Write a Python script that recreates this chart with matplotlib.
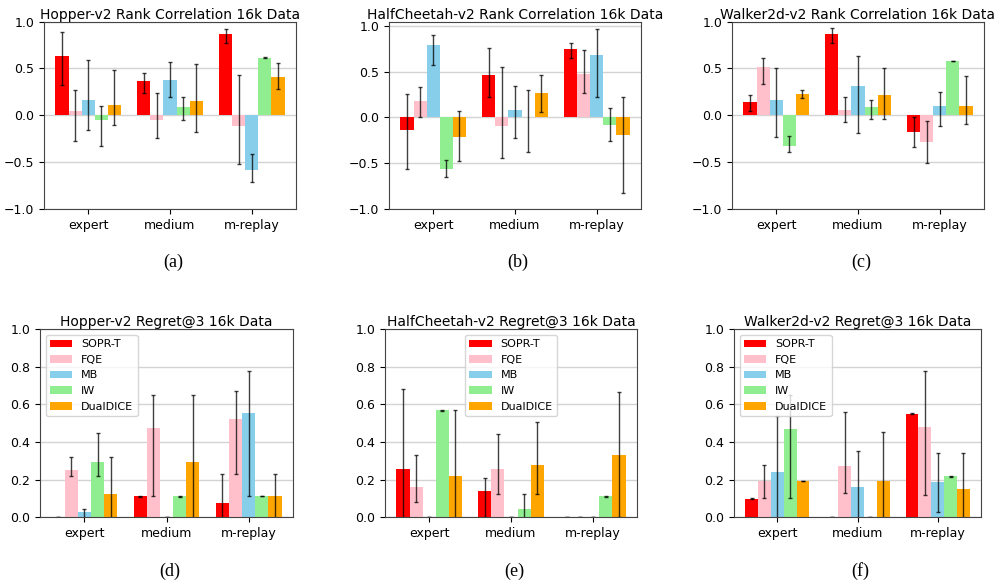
import numpy as np
import matplotlib.pyplot as plt

methods = ["SOPR-T", "FQE", "MB", "IW", "DualDICE"]
colors = ["red", "pink", "skyblue", "lightgreen", "orange"]
envs = ["expert", "medium", "m-replay"]

# --- rank correlation (rows = methods, cols = envs) ---
hopper_rank = [[0.634, 0.368, 0.865], [0.048, -0.048, -0.119], [0.158, 0.378, -0.584],
               [-0.055, 0.083, 0.616], [0.112, 0.155, 0.407]]
hopper_rank_lo = [[0.326, 0.243, 0.769], [-0.28, -0.243, -0.52], [-0.158, 0.20, -0.716],
                  [-0.325, -0.048, 0.612], [-0.10, -0.183, 0.279]]
hopper_rank_hi = [[0.886, 0.449, 0.918], [0.27, 0.243, 0.425], [0.595, 0.57, -0.414],
                  [0.098, 0.19, 0.62], [0.485, 0.549, 0.556]]

cheetah_rank = [[-0.138, 0.462, 0.749], [0.178, -0.095, 0.473], [0.785, 0.08, 0.676],
                [-0.564, 0.0, -0.084], [-0.211, 0.262, -0.193]]
cheetah_rank_lo = [[-0.567, 0.222, 0.644], [0.0, -0.444, 0.269], [0.571, -0.225, 0.218],
                   [-0.651, -0.375, -0.262], [-0.48, 0.055, -0.829]]
cheetah_rank_hi = [[0.258, 0.753, 0.815], [0.327, 0.549, 0.731], [0.902, 0.342, 0.96],
                   [-0.469, 0.295, 0.102], [0.065, 0.465, 0.222]]

walker_rank = [[0.139, 0.871, -0.182], [0.511, 0.054, -0.282], [0.164, 0.311, 0.1],
               [-0.329, 0.086, 0.579], [0.225, 0.211, 0.1]]
walker_rank_lo = [[0.043, 0.768, -0.336], [0.332, -0.071, -0.514], [-0.236, -0.193, -0.118],
                  [-0.396, -0.043, 0.575], [0.186, -0.043, -0.096]]
walker_rank_hi = [[0.221, 0.936, -0.014], [0.611, 0.196, -0.057], [0.504, 0.636, 0.246],
                  [-0.225, 0.161, 0.583], [0.268, 0.5, 0.414]]

# --- regret@3 ---
hopper_reg = [[0.0, 0.11, 0.076], [0.252, 0.475, 0.521], [0.03, 0.0, 0.557],
              [0.293, 0.11, 0.112], [0.124, 0.291, 0.112]]
hopper_reg_lo = [[0.0, 0.108, -0.077], [0.218, 0.11, 0.23], [-0.016, 0.0, 0.113],
                 [0.218, 0.108, 0.11], [-0.07, -0.07, -0.005]]
hopper_reg_hi = [[0.0, 0.112, 0.229], [0.319, 0.652, 0.67], [0.046, 0.0, 0.78],
                 [0.447, 0.112, 0.114], [0.319, 0.652, 0.229]]

cheetah_reg = [[0.254, 0.138, 0.0], [0.161, 0.255, 0.0], [0.0, 0.0, 0.0],
               [0.569, 0.043, 0.11], [0.218, 0.278, 0.333]]
cheetah_reg_lo = [[-0.17, 0.0, 0.0], [0.078, 0.122, 0.0], [0.0, 0.0, 0.0],
                  [0.567, -0.04, 0.108], [-0.13, 0.122, 0.0]]
cheetah_reg_hi = [[0.681, 0.206, 0.0], [0.33, 0.441, 0.0], [0.0, 0.0, 0.0],
                  [0.571, 0.122, 0.112], [0.569, 0.507, 0.667]]

walker_reg = [[0.098, 0.0, 0.551], [0.191, 0.271, 0.482], [0.243, 0.16, 0.186],
              [0.468, 0.0, 0.218], [0.193, 0.193, 0.149]]
walker_reg_lo = [[0.096, 0.0, 0.549], [0.1, 0.131, 0.117], [-0.05, -0.03, 0.03],
                 [0.1, 0.0, 0.216], [0.191, -0.07, -0.04]]
walker_reg_hi = [[0.1, 0.0, 0.553], [0.28, 0.559, 0.78], [0.537, 0.353, 0.339],
                 [0.652, 0.0, 0.22], [0.195, 0.456, 0.339]]

panels = [
    ("Hopper-v2 Rank Correlation 16k Data", hopper_rank, hopper_rank_lo, hopper_rank_hi, None, "(a)"),
    ("HalfCheetah-v2 Rank Correlation 16k Data", cheetah_rank, cheetah_rank_lo, cheetah_rank_hi, None, "(b)"),
    ("Walker2d-v2 Rank Correlation 16k Data", walker_rank, walker_rank_lo, walker_rank_hi, None, "(c)"),
    ("Hopper-v2 Regret@3 16k Data", hopper_reg, hopper_reg_lo, hopper_reg_hi, "upper left", "(d)"),
    ("HalfCheetah-v2 Regret@3 16k Data", cheetah_reg, cheetah_reg_lo, cheetah_reg_hi, "upper center", "(e)"),
    ("Walker2d-v2 Regret@3 16k Data", walker_reg, walker_reg_lo, walker_reg_hi, "upper left", "(f)"),
]

# axes boxes in figure fraction (left, bottom, width, height)
boxes = [
    (0.044, 0.643, 0.252, 0.320), (0.389, 0.643, 0.252, 0.320), (0.732, 0.643, 0.252, 0.320),
    (0.040, 0.116, 0.253, 0.321), (0.385, 0.116, 0.252, 0.321), (0.734, 0.116, 0.247, 0.321),
]

fig = plt.figure(figsize=(10, 5.85), dpi=100)
x = np.arange(len(envs))
w = 0.16

for i, (title, vals, lo, hi, legloc, cap) in enumerate(panels):
    ax = fig.add_axes(boxes[i])
    vals = np.array(vals)
    lo = np.array(lo)
    hi = np.array(hi)
    for m in range(len(methods)):
        err = [vals[m] - lo[m], hi[m] - vals[m]]
        ax.bar(x + (m - 2) * w, vals[m], w, color=colors[m], label=methods[m],
               yerr=err, capsize=1.5,
               error_kw=dict(ecolor="black", elinewidth=1, capthick=1, alpha=0.75))
    ax.set_axisbelow(True)
    ax.yaxis.grid(True, color="lightgray", linewidth=1)
    ax.set_xticks(x)
    ax.set_xticklabels(envs, fontsize=9)
    ax.tick_params(axis="y", labelsize=9)
    ax.set_title(title, fontsize=10, pad=2)
    if legloc is None:
        if i == 1:
            ax.set_ylim(-1, 1.045)
        else:
            ax.set_ylim(-1, 1)
        ax.set_yticks([-1.0, -0.5, 0.0, 0.5, 1.0])
    else:
        ax.set_ylim(0, 1)
        ax.set_yticks([0.0, 0.2, 0.4, 0.6, 0.8, 1.0])
        ax.legend(loc=legloc, fontsize=8)
    for s in ax.spines.values():
        s.set_color("#444444")
    b = boxes[i]
    fig.text(b[0] + b[2] / 2 + 0.003, b[1] - 0.092, cap, ha="center", va="center",
             fontsize=13, family="Liberation Serif")

fig.savefig("out.png", dpi=100)
